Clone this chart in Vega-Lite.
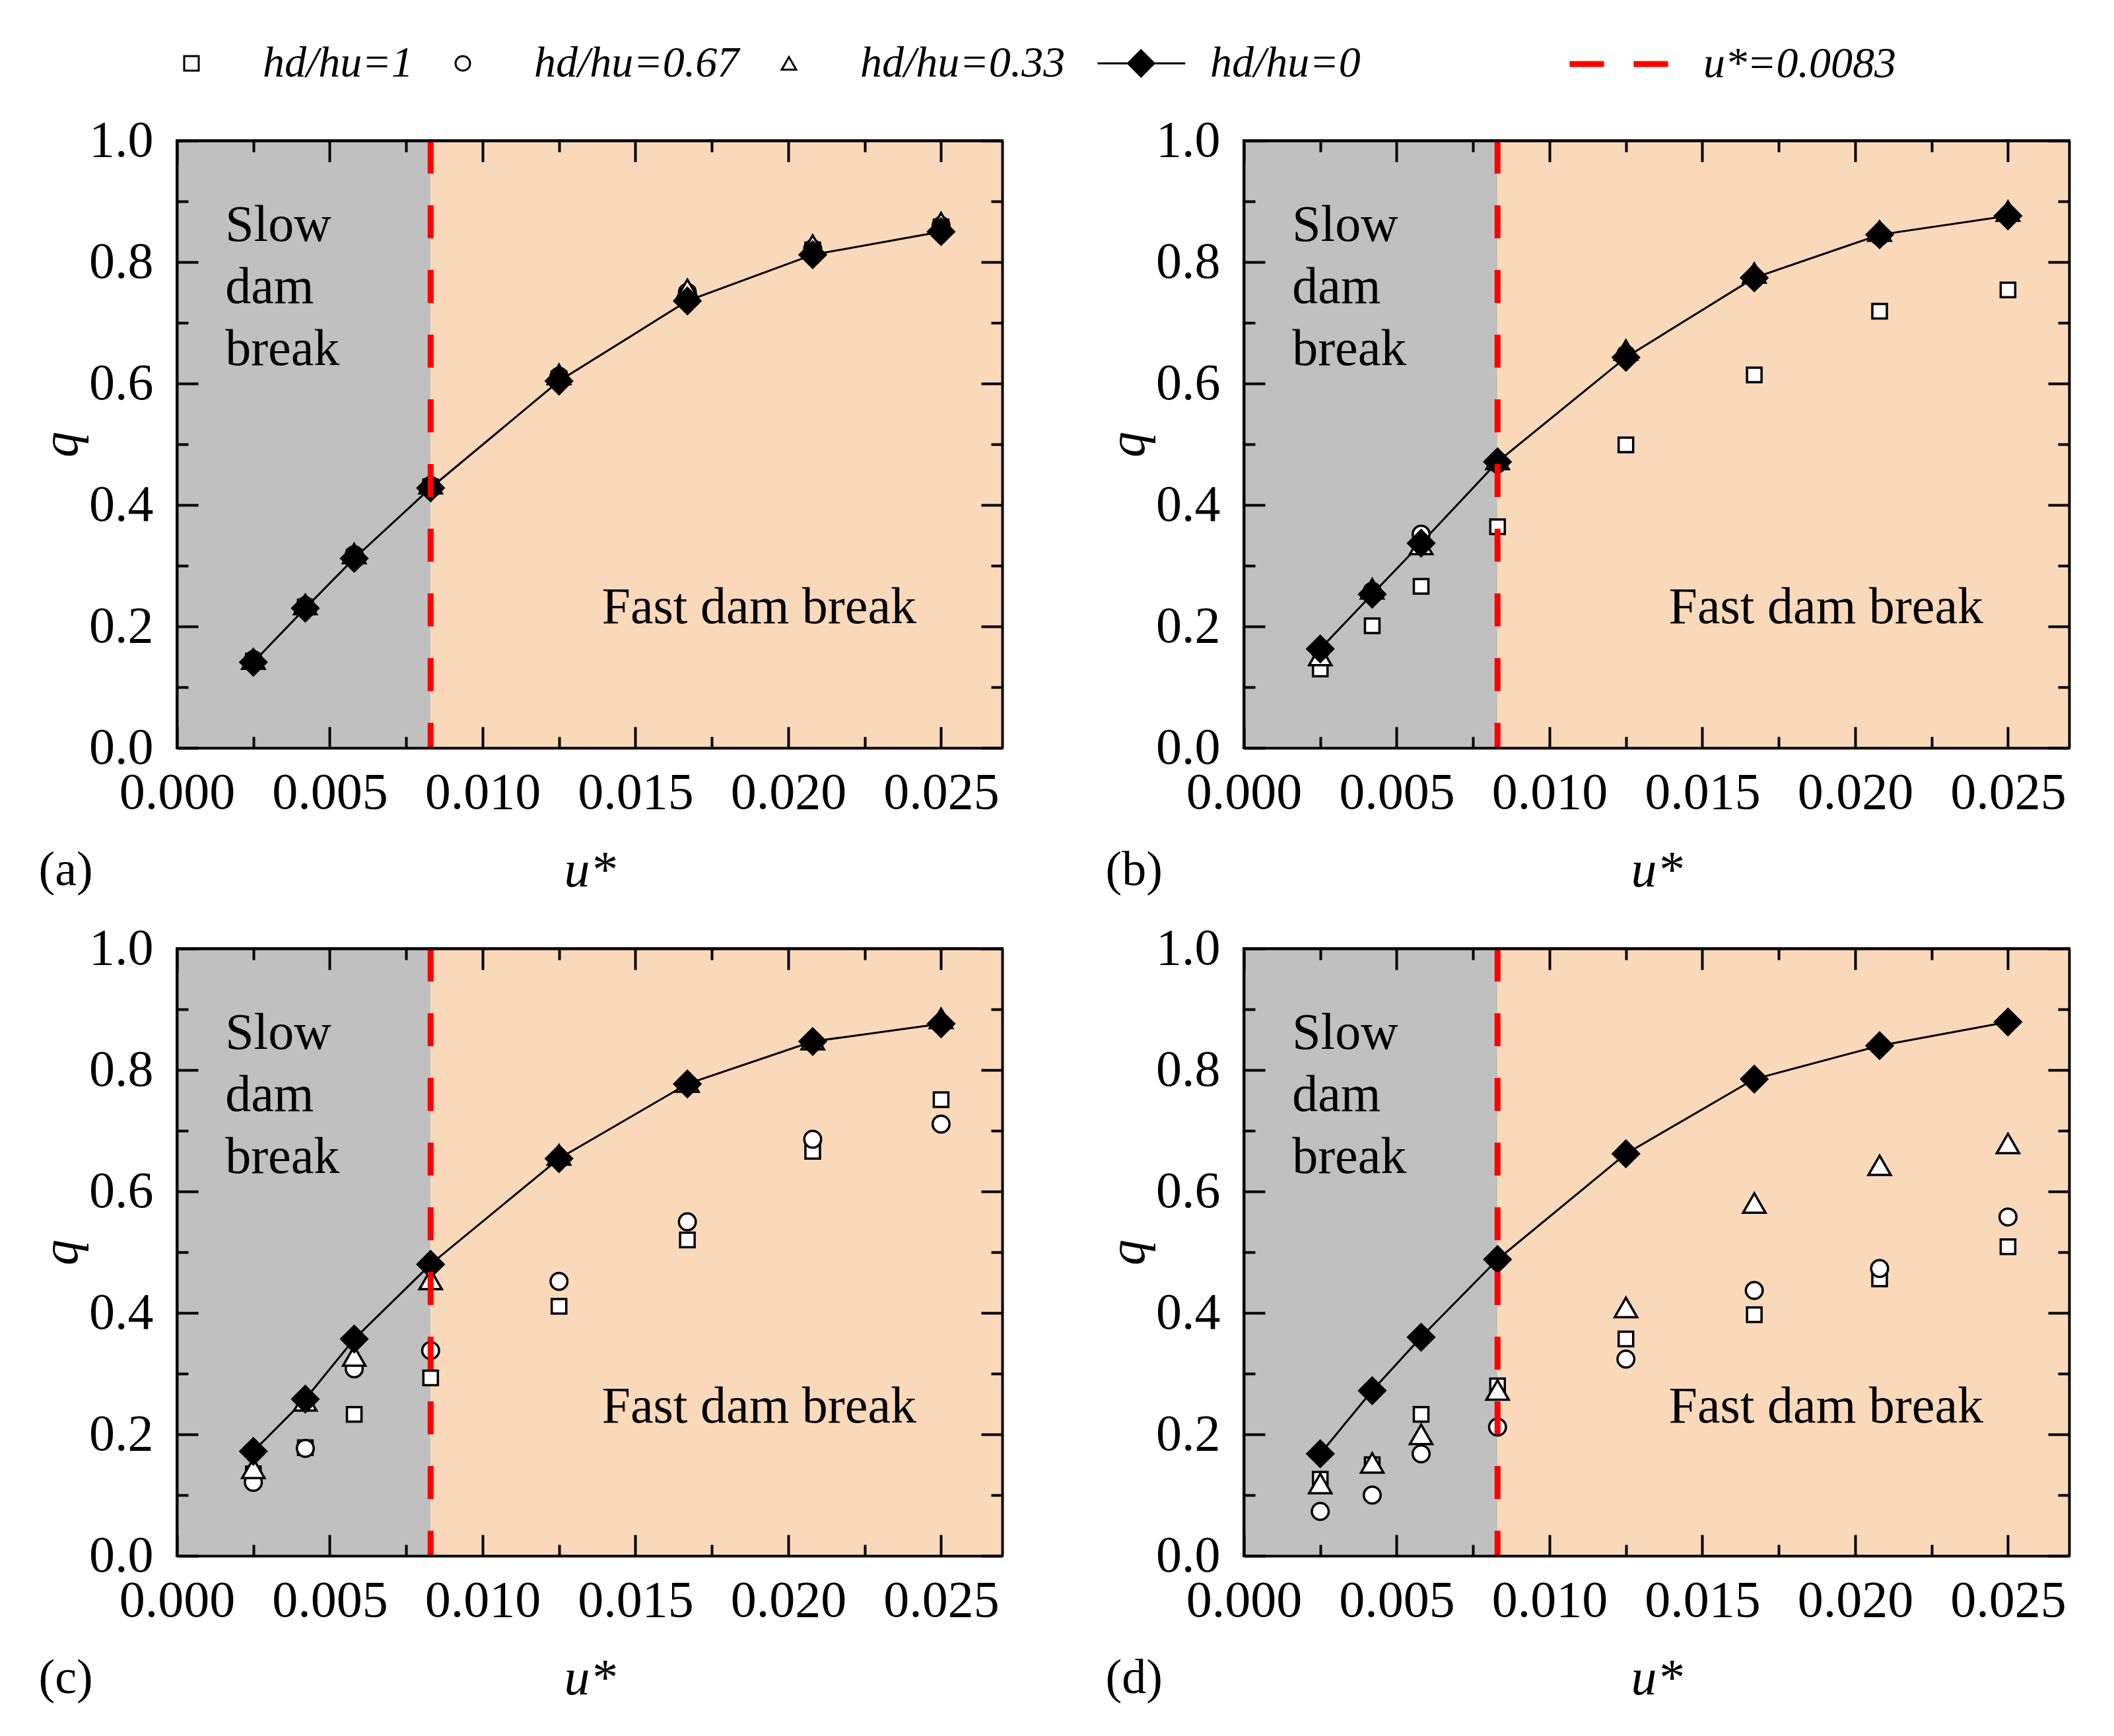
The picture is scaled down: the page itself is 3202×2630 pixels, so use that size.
{
"$schema":"https://vega.github.io/schema/vega-lite/v6.json",
"padding":{"left":52,"top":16,"right":10,"bottom":10},
"background":"white",
"config":{
 "view":{"stroke":"black","strokeWidth":4},
 "axis":{"grid":false,"tickWidth":4,"tickColor":"black","domainColor":"black","domainWidth":4,"labelFont":"Liberation Serif","labelFontSize":78,"labelColor":"black","labelFlush":false,"labelOverlap":false,"titleFont":"Liberation Serif","titleFontSize":78,"titleFontStyle":"italic","titleFontWeight":"normal","titleColor":"black"},
 "title":{"font":"Liberation Serif","fontSize":74,"fontWeight":"normal","color":"black"},
 "legend":{"labelFont":"Liberation Serif","labelFontSize":66,"labelColor":"black","labelLimit":0}
},
"datasets":{
 "zones":[{"u0":0,"u1":0.0083,"zone":"slow"},{"u0":0.0083,"u1":0.027,"zone":"fast"}],
 "thr":[{"u":0.0083,"lab":"u*=0.0083"}],
 "pts":[
  {"p":"a","s":"hd/hu=1","u":0.0025,"q":0.143},{"p":"a","s":"hd/hu=1","u":0.0042,"q":0.232},{"p":"a","s":"hd/hu=1","u":0.0058,"q":0.314},{"p":"a","s":"hd/hu=1","u":0.0083,"q":0.430},{"p":"a","s":"hd/hu=1","u":0.0125,"q":0.608},{"p":"a","s":"hd/hu=1","u":0.0167,"q":0.745},{"p":"a","s":"hd/hu=1","u":0.0208,"q":0.820},{"p":"a","s":"hd/hu=1","u":0.025,"q":0.858},
  {"p":"a","s":"hd/hu=0.67","u":0.0025,"q":0.145},{"p":"a","s":"hd/hu=0.67","u":0.0042,"q":0.234},{"p":"a","s":"hd/hu=0.67","u":0.0058,"q":0.318},{"p":"a","s":"hd/hu=0.67","u":0.0083,"q":0.432},{"p":"a","s":"hd/hu=0.67","u":0.0125,"q":0.612},{"p":"a","s":"hd/hu=0.67","u":0.0167,"q":0.750},{"p":"a","s":"hd/hu=0.67","u":0.0208,"q":0.822},{"p":"a","s":"hd/hu=0.67","u":0.025,"q":0.860},
  {"p":"a","s":"hd/hu=0.33","u":0.0025,"q":0.146},{"p":"a","s":"hd/hu=0.33","u":0.0042,"q":0.236},{"p":"a","s":"hd/hu=0.33","u":0.0058,"q":0.320},{"p":"a","s":"hd/hu=0.33","u":0.0083,"q":0.435},{"p":"a","s":"hd/hu=0.33","u":0.0125,"q":0.615},{"p":"a","s":"hd/hu=0.33","u":0.0167,"q":0.755},{"p":"a","s":"hd/hu=0.33","u":0.0208,"q":0.828},{"p":"a","s":"hd/hu=0.33","u":0.025,"q":0.865},
  {"p":"a","s":"hd/hu=0","u":0.0025,"q":0.141},{"p":"a","s":"hd/hu=0","u":0.0042,"q":0.230},{"p":"a","s":"hd/hu=0","u":0.0058,"q":0.312},{"p":"a","s":"hd/hu=0","u":0.0083,"q":0.428},{"p":"a","s":"hd/hu=0","u":0.0125,"q":0.604},{"p":"a","s":"hd/hu=0","u":0.0167,"q":0.736},{"p":"a","s":"hd/hu=0","u":0.0208,"q":0.812},{"p":"a","s":"hd/hu=0","u":0.025,"q":0.850},

  {"p":"b","s":"hd/hu=1","u":0.0025,"q":0.130},{"p":"b","s":"hd/hu=1","u":0.0042,"q":0.201},{"p":"b","s":"hd/hu=1","u":0.0058,"q":0.266},{"p":"b","s":"hd/hu=1","u":0.0083,"q":0.364},{"p":"b","s":"hd/hu=1","u":0.0125,"q":0.499},{"p":"b","s":"hd/hu=1","u":0.0167,"q":0.614},{"p":"b","s":"hd/hu=1","u":0.0208,"q":0.719},{"p":"b","s":"hd/hu=1","u":0.025,"q":0.754},
  {"p":"b","s":"hd/hu=0.67","u":0.0025,"q":0.160},{"p":"b","s":"hd/hu=0.67","u":0.0042,"q":0.258},{"p":"b","s":"hd/hu=0.67","u":0.0058,"q":0.352},{"p":"b","s":"hd/hu=0.67","u":0.0083,"q":0.468},{"p":"b","s":"hd/hu=0.67","u":0.0125,"q":0.648},{"p":"b","s":"hd/hu=0.67","u":0.0167,"q":0.772},{"p":"b","s":"hd/hu=0.67","u":0.0208,"q":0.842},{"p":"b","s":"hd/hu=0.67","u":0.025,"q":0.878},
  {"p":"b","s":"hd/hu=0.33","u":0.0025,"q":0.152},{"p":"b","s":"hd/hu=0.33","u":0.0042,"q":0.262},{"p":"b","s":"hd/hu=0.33","u":0.0058,"q":0.335},{"p":"b","s":"hd/hu=0.33","u":0.0083,"q":0.475},{"p":"b","s":"hd/hu=0.33","u":0.0125,"q":0.655},{"p":"b","s":"hd/hu=0.33","u":0.0167,"q":0.782},{"p":"b","s":"hd/hu=0.33","u":0.0208,"q":0.851},{"p":"b","s":"hd/hu=0.33","u":0.025,"q":0.884},
  {"p":"b","s":"hd/hu=0","u":0.0025,"q":0.163},{"p":"b","s":"hd/hu=0","u":0.0042,"q":0.253},{"p":"b","s":"hd/hu=0","u":0.0058,"q":0.337},{"p":"b","s":"hd/hu=0","u":0.0083,"q":0.471},{"p":"b","s":"hd/hu=0","u":0.0125,"q":0.643},{"p":"b","s":"hd/hu=0","u":0.0167,"q":0.774},{"p":"b","s":"hd/hu=0","u":0.0208,"q":0.845},{"p":"b","s":"hd/hu=0","u":0.025,"q":0.876},

  {"p":"c","s":"hd/hu=1","u":0.0025,"q":0.135},{"p":"c","s":"hd/hu=1","u":0.0042,"q":0.178},{"p":"c","s":"hd/hu=1","u":0.0058,"q":0.233},{"p":"c","s":"hd/hu=1","u":0.0083,"q":0.293},{"p":"c","s":"hd/hu=1","u":0.0125,"q":0.411},{"p":"c","s":"hd/hu=1","u":0.0167,"q":0.520},{"p":"c","s":"hd/hu=1","u":0.0208,"q":0.666},{"p":"c","s":"hd/hu=1","u":0.025,"q":0.751},
  {"p":"c","s":"hd/hu=0.67","u":0.0025,"q":0.121},{"p":"c","s":"hd/hu=0.67","u":0.0042,"q":0.177},{"p":"c","s":"hd/hu=0.67","u":0.0058,"q":0.308},{"p":"c","s":"hd/hu=0.67","u":0.0083,"q":0.338},{"p":"c","s":"hd/hu=0.67","u":0.0125,"q":0.452},{"p":"c","s":"hd/hu=0.67","u":0.0167,"q":0.550},{"p":"c","s":"hd/hu=0.67","u":0.0208,"q":0.686},{"p":"c","s":"hd/hu=0.67","u":0.025,"q":0.711},
  {"p":"c","s":"hd/hu=0.33","u":0.0025,"q":0.144},{"p":"c","s":"hd/hu=0.33","u":0.0042,"q":0.255},{"p":"c","s":"hd/hu=0.33","u":0.0058,"q":0.329},{"p":"c","s":"hd/hu=0.33","u":0.0083,"q":0.455},{"p":"c","s":"hd/hu=0.33","u":0.0125,"q":0.660},{"p":"c","s":"hd/hu=0.33","u":0.0167,"q":0.780},{"p":"c","s":"hd/hu=0.33","u":0.0208,"q":0.850},{"p":"c","s":"hd/hu=0.33","u":0.025,"q":0.885},
  {"p":"c","s":"hd/hu=0","u":0.0025,"q":0.172},{"p":"c","s":"hd/hu=0","u":0.0042,"q":0.258},{"p":"c","s":"hd/hu=0","u":0.0058,"q":0.357},{"p":"c","s":"hd/hu=0","u":0.0083,"q":0.480},{"p":"c","s":"hd/hu=0","u":0.0125,"q":0.654},{"p":"c","s":"hd/hu=0","u":0.0167,"q":0.777},{"p":"c","s":"hd/hu=0","u":0.0208,"q":0.847},{"p":"c","s":"hd/hu=0","u":0.025,"q":0.876},

  {"p":"d","s":"hd/hu=1","u":0.0025,"q":0.126},{"p":"d","s":"hd/hu=1","u":0.0042,"q":0.150},{"p":"d","s":"hd/hu=1","u":0.0058,"q":0.233},{"p":"d","s":"hd/hu=1","u":0.0083,"q":0.280},{"p":"d","s":"hd/hu=1","u":0.0125,"q":0.357},{"p":"d","s":"hd/hu=1","u":0.0167,"q":0.397},{"p":"d","s":"hd/hu=1","u":0.0208,"q":0.456},{"p":"d","s":"hd/hu=1","u":0.025,"q":0.509},
  {"p":"d","s":"hd/hu=0.67","u":0.0025,"q":0.073},{"p":"d","s":"hd/hu=0.67","u":0.0042,"q":0.100},{"p":"d","s":"hd/hu=0.67","u":0.0058,"q":0.168},{"p":"d","s":"hd/hu=0.67","u":0.0083,"q":0.212},{"p":"d","s":"hd/hu=0.67","u":0.0125,"q":0.324},{"p":"d","s":"hd/hu=0.67","u":0.0167,"q":0.437},{"p":"d","s":"hd/hu=0.67","u":0.0208,"q":0.473},{"p":"d","s":"hd/hu=0.67","u":0.025,"q":0.558},
  {"p":"d","s":"hd/hu=0.33","u":0.0025,"q":0.119},{"p":"d","s":"hd/hu=0.33","u":0.0042,"q":0.153},{"p":"d","s":"hd/hu=0.33","u":0.0058,"q":0.200},{"p":"d","s":"hd/hu=0.33","u":0.0083,"q":0.273},{"p":"d","s":"hd/hu=0.33","u":0.0125,"q":0.409},{"p":"d","s":"hd/hu=0.33","u":0.0167,"q":0.581},{"p":"d","s":"hd/hu=0.33","u":0.0208,"q":0.643},{"p":"d","s":"hd/hu=0.33","u":0.025,"q":0.679},
  {"p":"d","s":"hd/hu=0","u":0.0025,"q":0.168},{"p":"d","s":"hd/hu=0","u":0.0042,"q":0.272},{"p":"d","s":"hd/hu=0","u":0.0058,"q":0.360},{"p":"d","s":"hd/hu=0","u":0.0083,"q":0.488},{"p":"d","s":"hd/hu=0","u":0.0125,"q":0.662},{"p":"d","s":"hd/hu=0","u":0.0167,"q":0.785},{"p":"d","s":"hd/hu=0","u":0.0208,"q":0.840},{"p":"d","s":"hd/hu=0","u":0.025,"q":0.879}
 ]
},
"columns":2,
"spacing":{"column":146,"row":36},
"concat":[
 {"width":1250,"height":920,
  "title":{"text":"(a)","orient":"bottom","anchor":"start","offset":-75,"dx":4},
  "resolve":{"axis":{"x":"independent","y":"independent"}},
  "layer":[
   {"data":{"name":"zones"},"mark":{"type":"rect"},
    "encoding":{
     "x":{"field":"u0","type":"quantitative","scale":{"domain":[0,0.027],"nice":false,"zero":false},
      "axis":{"orient":"bottom","zindex":1,"values":[0,0.005,0.01,0.015,0.02,0.025],"format":".3f","tickSize":-32,"labelPadding":61,"title":"u*","titlePadding":40}},
     "x2":{"field":"u1"},
     "y":{"datum":0,"type":"quantitative","scale":{"domain":[0,1],"nice":false},
      "axis":{"orient":"left","zindex":1,"values":[0,0.2,0.4,0.6,0.8,1],"format":".1f","tickSize":-32,"labelPadding":68,"title":"q","titlePadding":2}},
     "y2":{"datum":1},
     "fill":{"field":"zone","type":"nominal","scale":{"domain":["slow","fast"],"range":["#C0C0C0","#FAD9BA"]},"legend":null}}},
   {"data":{"name":"pts"},"transform":[{"filter":"datum.p==='a' && datum.s==='hd/hu=0'"}],"mark":{"type":"line","stroke":"black","strokeWidth":3},
    "encoding":{"x":{"field":"u","type":"quantitative","axis":{"orient":"bottom","zindex":1,"values":[0.0025,0.0075,0.0125,0.0175,0.0225],"labels":false,"domain":false,"title":null,"tickSize":-17}},
     "y":{"field":"q","type":"quantitative","axis":{"orient":"left","zindex":1,"values":[0.1,0.3,0.5,0.7,0.9],"labels":false,"domain":false,"title":null,"tickSize":-17}}}},
   {"data":{"name":"pts"},"transform":[{"filter":"datum.p==='a' && datum.s!=='hd/hu=0'"}],"mark":{"type":"point","filled":true,"stroke":"black","strokeWidth":3.5,"opacity":1},
    "encoding":{"x":{"field":"u","type":"quantitative","axis":{"orient":"top","zindex":1,"values":[0,0.005,0.01,0.015,0.02,0.025],"labels":false,"domain":true,"title":null,"tickSize":-32}},
     "y":{"field":"q","type":"quantitative","axis":{"orient":"right","zindex":1,"values":[0,0.2,0.4,0.6,0.8,1],"labels":false,"domain":true,"title":null,"tickSize":-32}},
     "shape":{"field":"s","type":"nominal","scale":{"domain":["hd/hu=1","hd/hu=0.67","hd/hu=0.33","hd/hu=0"],"range":["square","circle","triangle-up","M-5.7,0H6.4M0.3,-1.8L2.1,0L0.3,1.8L-1.5,0Z"]},
      "legend":{"orient":"none","legendX":-11,"legendY":-150,"direction":"horizontal","title":null,"labelFontStyle":"italic","labelOffset":75,"columnPadding":42,"symbolSize":484,"symbolStrokeWidth":3,"symbolStrokeColor":"black","symbolOpacity":1,"encode":{"symbols":{"update":{"stroke":{"value":"black"},"strokeWidth":{"value":3}}}}}},
     "color":{"field":"s","type":"nominal","scale":{"domain":["hd/hu=1","hd/hu=0.67","hd/hu=0.33","hd/hu=0"],"range":["white","white","white","black"]},
      "legend":{"orient":"none","legendX":-11,"legendY":-150,"direction":"horizontal","title":null,"labelFontStyle":"italic","labelOffset":75,"columnPadding":42,"symbolSize":484,"symbolStrokeWidth":3,"symbolStrokeColor":"black","symbolOpacity":1,"encode":{"symbols":{"update":{"stroke":{"value":"black"},"strokeWidth":{"value":3}}}}}},
     "size":{"condition":[{"test":"datum.s==='hd/hu=0.33'","value":1150},{"test":"datum.s==='hd/hu=0.67'","value":650}],"value":484}}},
   {"data":{"name":"pts"},"transform":[{"filter":"datum.p==='a' && datum.s==='hd/hu=0'"}],"mark":{"type":"point","shape":"diamond","filled":true,"fill":"black","stroke":"black","strokeWidth":3,"size":1600,"opacity":1},
    "encoding":{"x":{"field":"u","type":"quantitative","axis":null},"y":{"field":"q","type":"quantitative","axis":null}}},
   {"data":{"name":"thr"},"mark":{"type":"rule","strokeWidth":9,"strokeDash":[50,48]},
    "encoding":{"x":{"field":"u","type":"quantitative","axis":{"orient":"top","zindex":1,"values":[0.0025,0.0075,0.0125,0.0175,0.0225],"labels":false,"domain":false,"title":null,"tickSize":-17}},
     "stroke":{"field":"lab","type":"nominal","scale":{"domain":["u*=0.0083"],"range":["#FF0000"]},
      "legend":{"orient":"none","legendX":2105,"legendY":-197,"title":null,"symbolType":"stroke","symbolSize":23409,"symbolStrokeWidth":9,"symbolDash":[52,45],"labelOffset":45,"labelFontStyle":"italic"}}}},
   {"data":{"values":[{}]},"mark":{"type":"text","font":"Liberation Serif","fontSize":78,"align":"left","baseline":"middle","lineHeight":94,"color":"black"},
    "encoding":{"x":{"datum":0.00158,"type":"quantitative","axis":null},"y":{"datum":0.86,"type":"quantitative","axis":{"orient":"right","zindex":1,"values":[0.1,0.3,0.5,0.7,0.9],"labels":false,"domain":false,"title":null,"tickSize":-17}},"text":{"value":["Slow","dam","break"]}}},
   {"data":{"values":[{}]},"mark":{"type":"text","font":"Liberation Serif","fontSize":78,"align":"left","baseline":"middle","color":"black"},
    "encoding":{"x":{"datum":0.0139,"type":"quantitative","axis":null},"y":{"datum":0.23,"type":"quantitative","axis":null},"text":{"value":"Fast dam break"}}}
  ]},
 {"width":1250,"height":920,
  "title":{"text":"(b)","orient":"bottom","anchor":"start","offset":-75,"dx":4},
  "resolve":{"axis":{"x":"independent","y":"independent"}},
  "layer":[
   {"data":{"name":"zones"},"mark":{"type":"rect"},
    "encoding":{
     "x":{"field":"u0","type":"quantitative","scale":{"domain":[0,0.027],"nice":false,"zero":false},
      "axis":{"orient":"bottom","zindex":1,"values":[0,0.005,0.01,0.015,0.02,0.025],"format":".3f","tickSize":-32,"labelPadding":61,"title":"u*","titlePadding":40}},
     "x2":{"field":"u1"},
     "y":{"datum":0,"type":"quantitative","scale":{"domain":[0,1],"nice":false},
      "axis":{"orient":"left","zindex":1,"values":[0,0.2,0.4,0.6,0.8,1],"format":".1f","tickSize":-32,"labelPadding":68,"title":"q","titlePadding":2}},
     "y2":{"datum":1},
     "fill":{"field":"zone","type":"nominal","scale":{"domain":["slow","fast"],"range":["#C0C0C0","#FAD9BA"]},"legend":null}}},
   {"data":{"name":"pts"},"transform":[{"filter":"datum.p==='b' && datum.s==='hd/hu=0'"}],"mark":{"type":"line","stroke":"black","strokeWidth":3},
    "encoding":{"x":{"field":"u","type":"quantitative","axis":{"orient":"bottom","zindex":1,"values":[0.0025,0.0075,0.0125,0.0175,0.0225],"labels":false,"domain":false,"title":null,"tickSize":-17}},
     "y":{"field":"q","type":"quantitative","axis":{"orient":"left","zindex":1,"values":[0.1,0.3,0.5,0.7,0.9],"labels":false,"domain":false,"title":null,"tickSize":-17}}}},
   {"data":{"name":"pts"},"transform":[{"filter":"datum.p==='b' && datum.s!=='hd/hu=0'"}],"mark":{"type":"point","filled":true,"stroke":"black","strokeWidth":3.5,"opacity":1},
    "encoding":{"x":{"field":"u","type":"quantitative","axis":{"orient":"top","zindex":1,"values":[0,0.005,0.01,0.015,0.02,0.025],"labels":false,"domain":true,"title":null,"tickSize":-32}},
     "y":{"field":"q","type":"quantitative","axis":{"orient":"right","zindex":1,"values":[0,0.2,0.4,0.6,0.8,1],"labels":false,"domain":true,"title":null,"tickSize":-32}},
     "shape":{"field":"s","type":"nominal","scale":{"domain":["hd/hu=1","hd/hu=0.67","hd/hu=0.33","hd/hu=0"],"range":["square","circle","triangle-up","M-5.7,0H6.4M0.3,-1.8L2.1,0L0.3,1.8L-1.5,0Z"]},
      "legend":{"orient":"none","legendX":-11,"legendY":-150,"direction":"horizontal","title":null,"labelFontStyle":"italic","labelOffset":75,"columnPadding":42,"symbolSize":484,"symbolStrokeWidth":3,"symbolStrokeColor":"black","symbolOpacity":1,"encode":{"symbols":{"update":{"stroke":{"value":"black"},"strokeWidth":{"value":3}}}}}},
     "color":{"field":"s","type":"nominal","scale":{"domain":["hd/hu=1","hd/hu=0.67","hd/hu=0.33","hd/hu=0"],"range":["white","white","white","black"]},
      "legend":{"orient":"none","legendX":-11,"legendY":-150,"direction":"horizontal","title":null,"labelFontStyle":"italic","labelOffset":75,"columnPadding":42,"symbolSize":484,"symbolStrokeWidth":3,"symbolStrokeColor":"black","symbolOpacity":1,"encode":{"symbols":{"update":{"stroke":{"value":"black"},"strokeWidth":{"value":3}}}}}},
     "size":{"condition":[{"test":"datum.s==='hd/hu=0.33'","value":1150},{"test":"datum.s==='hd/hu=0.67'","value":650}],"value":484}}},
   {"data":{"name":"pts"},"transform":[{"filter":"datum.p==='b' && datum.s==='hd/hu=0'"}],"mark":{"type":"point","shape":"diamond","filled":true,"fill":"black","stroke":"black","strokeWidth":3,"size":1600,"opacity":1},
    "encoding":{"x":{"field":"u","type":"quantitative","axis":null},"y":{"field":"q","type":"quantitative","axis":null}}},
   {"data":{"name":"thr"},"mark":{"type":"rule","strokeWidth":9,"strokeDash":[50,48]},
    "encoding":{"x":{"field":"u","type":"quantitative","axis":{"orient":"top","zindex":1,"values":[0.0025,0.0075,0.0125,0.0175,0.0225],"labels":false,"domain":false,"title":null,"tickSize":-17}},
     "stroke":{"field":"lab","type":"nominal","scale":{"domain":["u*=0.0083"],"range":["#FF0000"]},
      "legend":{"orient":"none","legendX":2105,"legendY":-197,"title":null,"symbolType":"stroke","symbolSize":23409,"symbolStrokeWidth":9,"symbolDash":[52,45],"labelOffset":45,"labelFontStyle":"italic"}}}},
   {"data":{"values":[{}]},"mark":{"type":"text","font":"Liberation Serif","fontSize":78,"align":"left","baseline":"middle","lineHeight":94,"color":"black"},
    "encoding":{"x":{"datum":0.00158,"type":"quantitative","axis":null},"y":{"datum":0.86,"type":"quantitative","axis":{"orient":"right","zindex":1,"values":[0.1,0.3,0.5,0.7,0.9],"labels":false,"domain":false,"title":null,"tickSize":-17}},"text":{"value":["Slow","dam","break"]}}},
   {"data":{"values":[{}]},"mark":{"type":"text","font":"Liberation Serif","fontSize":78,"align":"left","baseline":"middle","color":"black"},
    "encoding":{"x":{"datum":0.0139,"type":"quantitative","axis":null},"y":{"datum":0.23,"type":"quantitative","axis":null},"text":{"value":"Fast dam break"}}}
  ]},
 {"width":1250,"height":920,
  "title":{"text":"(c)","orient":"bottom","anchor":"start","offset":-75,"dx":4},
  "resolve":{"axis":{"x":"independent","y":"independent"}},
  "layer":[
   {"data":{"name":"zones"},"mark":{"type":"rect"},
    "encoding":{
     "x":{"field":"u0","type":"quantitative","scale":{"domain":[0,0.027],"nice":false,"zero":false},
      "axis":{"orient":"bottom","zindex":1,"values":[0,0.005,0.01,0.015,0.02,0.025],"format":".3f","tickSize":-32,"labelPadding":61,"title":"u*","titlePadding":40}},
     "x2":{"field":"u1"},
     "y":{"datum":0,"type":"quantitative","scale":{"domain":[0,1],"nice":false},
      "axis":{"orient":"left","zindex":1,"values":[0,0.2,0.4,0.6,0.8,1],"format":".1f","tickSize":-32,"labelPadding":68,"title":"q","titlePadding":2}},
     "y2":{"datum":1},
     "fill":{"field":"zone","type":"nominal","scale":{"domain":["slow","fast"],"range":["#C0C0C0","#FAD9BA"]},"legend":null}}},
   {"data":{"name":"pts"},"transform":[{"filter":"datum.p==='c' && datum.s==='hd/hu=0'"}],"mark":{"type":"line","stroke":"black","strokeWidth":3},
    "encoding":{"x":{"field":"u","type":"quantitative","axis":{"orient":"bottom","zindex":1,"values":[0.0025,0.0075,0.0125,0.0175,0.0225],"labels":false,"domain":false,"title":null,"tickSize":-17}},
     "y":{"field":"q","type":"quantitative","axis":{"orient":"left","zindex":1,"values":[0.1,0.3,0.5,0.7,0.9],"labels":false,"domain":false,"title":null,"tickSize":-17}}}},
   {"data":{"name":"pts"},"transform":[{"filter":"datum.p==='c' && datum.s!=='hd/hu=0'"}],"mark":{"type":"point","filled":true,"stroke":"black","strokeWidth":3.5,"opacity":1},
    "encoding":{"x":{"field":"u","type":"quantitative","axis":{"orient":"top","zindex":1,"values":[0,0.005,0.01,0.015,0.02,0.025],"labels":false,"domain":true,"title":null,"tickSize":-32}},
     "y":{"field":"q","type":"quantitative","axis":{"orient":"right","zindex":1,"values":[0,0.2,0.4,0.6,0.8,1],"labels":false,"domain":true,"title":null,"tickSize":-32}},
     "shape":{"field":"s","type":"nominal","scale":{"domain":["hd/hu=1","hd/hu=0.67","hd/hu=0.33","hd/hu=0"],"range":["square","circle","triangle-up","M-5.7,0H6.4M0.3,-1.8L2.1,0L0.3,1.8L-1.5,0Z"]},
      "legend":{"orient":"none","legendX":-11,"legendY":-150,"direction":"horizontal","title":null,"labelFontStyle":"italic","labelOffset":75,"columnPadding":42,"symbolSize":484,"symbolStrokeWidth":3,"symbolStrokeColor":"black","symbolOpacity":1,"encode":{"symbols":{"update":{"stroke":{"value":"black"},"strokeWidth":{"value":3}}}}}},
     "color":{"field":"s","type":"nominal","scale":{"domain":["hd/hu=1","hd/hu=0.67","hd/hu=0.33","hd/hu=0"],"range":["white","white","white","black"]},
      "legend":{"orient":"none","legendX":-11,"legendY":-150,"direction":"horizontal","title":null,"labelFontStyle":"italic","labelOffset":75,"columnPadding":42,"symbolSize":484,"symbolStrokeWidth":3,"symbolStrokeColor":"black","symbolOpacity":1,"encode":{"symbols":{"update":{"stroke":{"value":"black"},"strokeWidth":{"value":3}}}}}},
     "size":{"condition":[{"test":"datum.s==='hd/hu=0.33'","value":1150},{"test":"datum.s==='hd/hu=0.67'","value":650}],"value":484}}},
   {"data":{"name":"pts"},"transform":[{"filter":"datum.p==='c' && datum.s==='hd/hu=0'"}],"mark":{"type":"point","shape":"diamond","filled":true,"fill":"black","stroke":"black","strokeWidth":3,"size":1600,"opacity":1},
    "encoding":{"x":{"field":"u","type":"quantitative","axis":null},"y":{"field":"q","type":"quantitative","axis":null}}},
   {"data":{"name":"thr"},"mark":{"type":"rule","strokeWidth":9,"strokeDash":[50,48]},
    "encoding":{"x":{"field":"u","type":"quantitative","axis":{"orient":"top","zindex":1,"values":[0.0025,0.0075,0.0125,0.0175,0.0225],"labels":false,"domain":false,"title":null,"tickSize":-17}},
     "stroke":{"field":"lab","type":"nominal","scale":{"domain":["u*=0.0083"],"range":["#FF0000"]},
      "legend":{"orient":"none","legendX":2105,"legendY":-197,"title":null,"symbolType":"stroke","symbolSize":23409,"symbolStrokeWidth":9,"symbolDash":[52,45],"labelOffset":45,"labelFontStyle":"italic"}}}},
   {"data":{"values":[{}]},"mark":{"type":"text","font":"Liberation Serif","fontSize":78,"align":"left","baseline":"middle","lineHeight":94,"color":"black"},
    "encoding":{"x":{"datum":0.00158,"type":"quantitative","axis":null},"y":{"datum":0.86,"type":"quantitative","axis":{"orient":"right","zindex":1,"values":[0.1,0.3,0.5,0.7,0.9],"labels":false,"domain":false,"title":null,"tickSize":-17}},"text":{"value":["Slow","dam","break"]}}},
   {"data":{"values":[{}]},"mark":{"type":"text","font":"Liberation Serif","fontSize":78,"align":"left","baseline":"middle","color":"black"},
    "encoding":{"x":{"datum":0.0139,"type":"quantitative","axis":null},"y":{"datum":0.245,"type":"quantitative","axis":null},"text":{"value":"Fast dam break"}}}
  ]},
 {"width":1250,"height":920,
  "title":{"text":"(d)","orient":"bottom","anchor":"start","offset":-75,"dx":4},
  "resolve":{"axis":{"x":"independent","y":"independent"}},
  "layer":[
   {"data":{"name":"zones"},"mark":{"type":"rect"},
    "encoding":{
     "x":{"field":"u0","type":"quantitative","scale":{"domain":[0,0.027],"nice":false,"zero":false},
      "axis":{"orient":"bottom","zindex":1,"values":[0,0.005,0.01,0.015,0.02,0.025],"format":".3f","tickSize":-32,"labelPadding":61,"title":"u*","titlePadding":40}},
     "x2":{"field":"u1"},
     "y":{"datum":0,"type":"quantitative","scale":{"domain":[0,1],"nice":false},
      "axis":{"orient":"left","zindex":1,"values":[0,0.2,0.4,0.6,0.8,1],"format":".1f","tickSize":-32,"labelPadding":68,"title":"q","titlePadding":2}},
     "y2":{"datum":1},
     "fill":{"field":"zone","type":"nominal","scale":{"domain":["slow","fast"],"range":["#C0C0C0","#FAD9BA"]},"legend":null}}},
   {"data":{"name":"pts"},"transform":[{"filter":"datum.p==='d' && datum.s==='hd/hu=0'"}],"mark":{"type":"line","stroke":"black","strokeWidth":3},
    "encoding":{"x":{"field":"u","type":"quantitative","axis":{"orient":"bottom","zindex":1,"values":[0.0025,0.0075,0.0125,0.0175,0.0225],"labels":false,"domain":false,"title":null,"tickSize":-17}},
     "y":{"field":"q","type":"quantitative","axis":{"orient":"left","zindex":1,"values":[0.1,0.3,0.5,0.7,0.9],"labels":false,"domain":false,"title":null,"tickSize":-17}}}},
   {"data":{"name":"pts"},"transform":[{"filter":"datum.p==='d' && datum.s!=='hd/hu=0'"}],"mark":{"type":"point","filled":true,"stroke":"black","strokeWidth":3.5,"opacity":1},
    "encoding":{"x":{"field":"u","type":"quantitative","axis":{"orient":"top","zindex":1,"values":[0,0.005,0.01,0.015,0.02,0.025],"labels":false,"domain":true,"title":null,"tickSize":-32}},
     "y":{"field":"q","type":"quantitative","axis":{"orient":"right","zindex":1,"values":[0,0.2,0.4,0.6,0.8,1],"labels":false,"domain":true,"title":null,"tickSize":-32}},
     "shape":{"field":"s","type":"nominal","scale":{"domain":["hd/hu=1","hd/hu=0.67","hd/hu=0.33","hd/hu=0"],"range":["square","circle","triangle-up","M-5.7,0H6.4M0.3,-1.8L2.1,0L0.3,1.8L-1.5,0Z"]},
      "legend":{"orient":"none","legendX":-11,"legendY":-150,"direction":"horizontal","title":null,"labelFontStyle":"italic","labelOffset":75,"columnPadding":42,"symbolSize":484,"symbolStrokeWidth":3,"symbolStrokeColor":"black","symbolOpacity":1,"encode":{"symbols":{"update":{"stroke":{"value":"black"},"strokeWidth":{"value":3}}}}}},
     "color":{"field":"s","type":"nominal","scale":{"domain":["hd/hu=1","hd/hu=0.67","hd/hu=0.33","hd/hu=0"],"range":["white","white","white","black"]},
      "legend":{"orient":"none","legendX":-11,"legendY":-150,"direction":"horizontal","title":null,"labelFontStyle":"italic","labelOffset":75,"columnPadding":42,"symbolSize":484,"symbolStrokeWidth":3,"symbolStrokeColor":"black","symbolOpacity":1,"encode":{"symbols":{"update":{"stroke":{"value":"black"},"strokeWidth":{"value":3}}}}}},
     "size":{"condition":[{"test":"datum.s==='hd/hu=0.33'","value":1150},{"test":"datum.s==='hd/hu=0.67'","value":650}],"value":484}}},
   {"data":{"name":"pts"},"transform":[{"filter":"datum.p==='d' && datum.s==='hd/hu=0'"}],"mark":{"type":"point","shape":"diamond","filled":true,"fill":"black","stroke":"black","strokeWidth":3,"size":1600,"opacity":1},
    "encoding":{"x":{"field":"u","type":"quantitative","axis":null},"y":{"field":"q","type":"quantitative","axis":null}}},
   {"data":{"name":"thr"},"mark":{"type":"rule","strokeWidth":9,"strokeDash":[50,48]},
    "encoding":{"x":{"field":"u","type":"quantitative","axis":{"orient":"top","zindex":1,"values":[0.0025,0.0075,0.0125,0.0175,0.0225],"labels":false,"domain":false,"title":null,"tickSize":-17}},
     "stroke":{"field":"lab","type":"nominal","scale":{"domain":["u*=0.0083"],"range":["#FF0000"]},
      "legend":{"orient":"none","legendX":2105,"legendY":-197,"title":null,"symbolType":"stroke","symbolSize":23409,"symbolStrokeWidth":9,"symbolDash":[52,45],"labelOffset":45,"labelFontStyle":"italic"}}}},
   {"data":{"values":[{}]},"mark":{"type":"text","font":"Liberation Serif","fontSize":78,"align":"left","baseline":"middle","lineHeight":94,"color":"black"},
    "encoding":{"x":{"datum":0.00158,"type":"quantitative","axis":null},"y":{"datum":0.86,"type":"quantitative","axis":{"orient":"right","zindex":1,"values":[0.1,0.3,0.5,0.7,0.9],"labels":false,"domain":false,"title":null,"tickSize":-17}},"text":{"value":["Slow","dam","break"]}}},
   {"data":{"values":[{}]},"mark":{"type":"text","font":"Liberation Serif","fontSize":78,"align":"left","baseline":"middle","color":"black"},
    "encoding":{"x":{"datum":0.0139,"type":"quantitative","axis":null},"y":{"datum":0.245,"type":"quantitative","axis":null},"text":{"value":"Fast dam break"}}}
  ]}
]
}
